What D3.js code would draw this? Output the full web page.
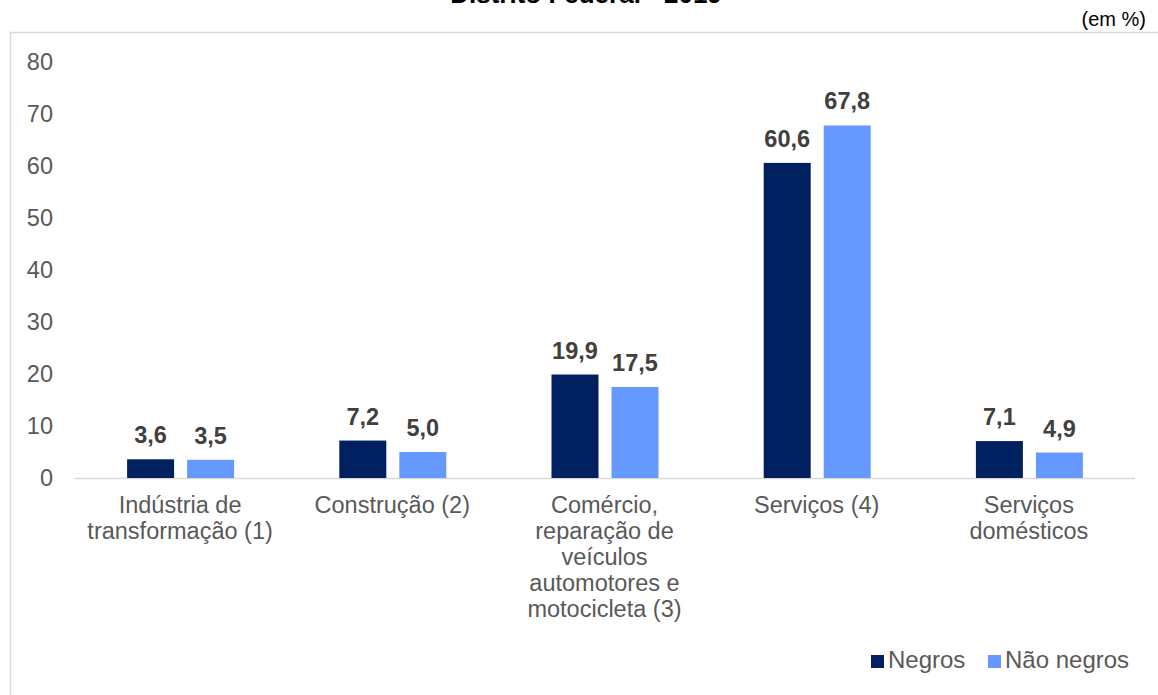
<!DOCTYPE html>
<html>
<head>
<meta charset="utf-8">
<script src="https://cdn.jsdelivr.net/npm/d3@7"></script>
<style>
  body { margin: 0; background: #fff; }
  svg { display: block; font-family: "Liberation Sans", Arial, sans-serif; }
</style>
</head>
<body>
<div id="chart"></div>
<script>
const categories = [
  ["Indústria de", "transformação (1)"],
  ["Construção (2)"],
  ["Comércio,", "reparação de", "veículos", "automotores e", "motocicleta (3)"],
  ["Serviços (4)"],
  ["Serviços", "domésticos"]
]
const negros = [3.6, 7.2, 19.9, 60.6, 7.1]
const naoNegros = [3.5, 5.0, 17.5, 67.8, 4.9]
const series = ["Negros", "Não negros"]
const colors = ["#002060", "#6699ff"]
const yTicks = [0, 10, 20, 30, 40, 50, 60, 70, 80]

const width = 1158
const height = 695
const margin = {top: 62, right: 23, bottom: 217, left: 74}

const svg = d3.select("#chart")
    .append("svg")
    .attr("width", width)
    .attr("height", height)

// frame
svg.append("path")
    .attr("fill", "none")
    .attr("stroke", "#d9d9d9")
    .attr("stroke-width", 1.5)
    .attr("d", `M10.5,${height + 5}V32.5H${width + 5}`)

// title (cut off at top, as in the source image)
svg.append("text")
    .attr("x", 586)
    .attr("y", 3)
    .attr("text-anchor", "middle")
    .style("font-weight", "bold")
    .style("font-size", "26px")
    .attr("fill", "#000")
    .text("Distrito Federal - 2019")

svg.append("text")
    .attr("x", 1146)
    .attr("y", 26)
    .attr("text-anchor", "end")
    .style("font-size", "20px")
    .attr("fill", "#000")
    .text("(em %)")

const data = categories.map((c, i) => ({key: i, lines: c, values: [negros[i], naoNegros[i]]}))

const x = d3.scaleBand()
    .domain(data.map(d => d.key))
    .range([margin.left, width - margin.right])

const xInner = d3.scaleBand()
    .domain(series)
    .range([x.bandwidth() / 2 - 53, x.bandwidth() / 2 + 54])
    .paddingInner(0.217)

const y = d3.scaleLinear()
    .domain([0, 80])
    .range([height - margin.bottom, margin.top])

// y axis labels
svg.append("g")
    .attr("transform", `translate(53,0)`)
    .call(d3.axisLeft(y).tickValues(yTicks).tickSize(0).tickPadding(0).tickFormat(d3.format("d")))
    .call(g => g.select(".domain").remove())
    .call(g => g.selectAll("text")
        .style("font-size", "23.5px")
        .style("font-family", "Liberation Sans, Arial, sans-serif")
        .attr("fill", "#595959"))

// baseline
svg.append("line")
    .attr("x1", margin.left)
    .attr("x2", width - margin.right)
    .attr("y1", y(0) + 0.5)
    .attr("y2", y(0) + 0.5)
    .attr("stroke", "#d9d9d9")
    .attr("stroke-width", 1.5)

const groups = svg.append("g")
    .selectAll("g")
    .data(data)
    .join("g")
    .attr("transform", d => `translate(${x(d.key)},0)`)

groups.selectAll("rect")
    .data(d => d.values.map((v, i) => ({s: series[i], v, i})))
    .join("rect")
    .attr("x", d => xInner(d.s))
    .attr("width", xInner.bandwidth())
    .attr("y", d => y(d.v))
    .attr("height", d => y(0) - y(d.v))
    .attr("fill", d => colors[d.i])

groups.selectAll("text.val")
    .data(d => d.values.map((v, i) => ({s: series[i], v, i})))
    .join("text")
    .attr("class", "val")
    .attr("x", d => xInner(d.s) + xInner.bandwidth() / 2)
    .attr("y", d => y(d.v) - 16)
    .attr("text-anchor", "middle")
    .style("font-size", "23.5px")
    .style("font-weight", "bold")
    .attr("fill", "#404040")
    .text(d => d3.format(".1f")(d.v).replace(".", ","))

// category labels
groups.append("text")
    .attr("text-anchor", "middle")
    .style("font-size", "23.5px")
    .attr("fill", "#595959")
    .selectAll("tspan")
    .data(d => d.lines)
    .join("tspan")
    .attr("x", x.bandwidth() / 2)
    .attr("y", (d, i) => y(0) + 35 + i * 26)
    .text(d => d)

// legend
const legend = svg.append("g")
    .selectAll("g")
    .data(series)
    .join("g")
    .attr("transform", (d, i) => `translate(${[871, 988][i]},655)`)

legend.append("rect")
    .attr("width", 13)
    .attr("height", 13)
    .attr("fill", (d, i) => colors[i])

legend.append("text")
    .attr("x", 17)
    .attr("y", 13)
    .style("font-size", "24px")
    .attr("fill", "#595959")
    .text(d => d)
</script>
</body>
</html>
